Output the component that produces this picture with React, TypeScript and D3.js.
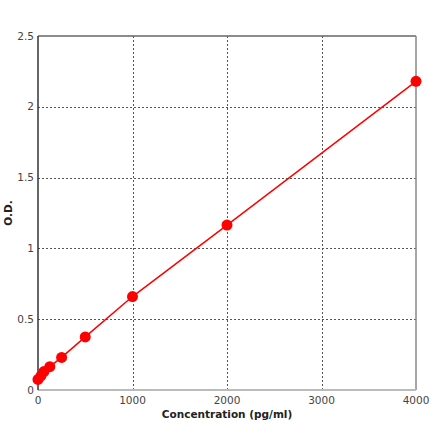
import * as React from "react";
import * as d3 from "d3";

const concentrations = [0, 31.25, 62.5, 125, 250, 500, 1000, 2000, 4000];
const odValues = [0.075, 0.1, 0.13, 0.165, 0.23, 0.375, 0.66, 1.165, 2.18];
const xTicks = [0, 1000, 2000, 3000, 4000];
const yTicks = [0, 0.5, 1, 1.5, 2, 2.5];

const WIDTH = 440;
const HEIGHT = 441;
const margin = { top: 36, right: 24, bottom: 51, left: 38 };

export default function App() {
  const iw = WIDTH - margin.left - margin.right;
  const ih = HEIGHT - margin.top - margin.bottom;

  const x = d3.scaleLinear().domain([0, 4000]).range([0, iw]);
  const y = d3.scaleLinear().domain([0, 2.5]).range([ih, 0]);

  const points = concentrations.map((c, i) => ({ c, od: odValues[i] }));
  const line = d3
    .line<{ c: number; od: number }>()
    .x((d) => x(d.c))
    .y((d) => y(d.od));

  const font = "Tahoma, 'DejaVu Sans', sans-serif";
  const labelColor = "#444";
  const gridColor = "#555";

  return (
    <svg
      width={WIDTH}
      height={HEIGHT}
      style={{ position: "absolute", left: 0, top: 0, background: "#fff" }}
      fontFamily={font}
    >
      <g transform={`translate(${margin.left},${margin.top})`}>
        {yTicks
          .filter((t) => t > 0 && t < 2.5)
          .map((t) => (
            <line
              key={`gy${t}`}
              x1={0}
              x2={iw}
              y1={Math.round(y(t)) + 0.5}
              y2={Math.round(y(t)) + 0.5}
              stroke={gridColor}
              strokeDasharray="2 2"
            />
          ))}
        {xTicks
          .filter((t) => t > 0 && t < 4000)
          .map((t) => (
            <line
              key={`gx${t}`}
              x1={Math.round(x(t)) + 0.5}
              x2={Math.round(x(t)) + 0.5}
              y1={0}
              y2={ih}
              stroke={gridColor}
              strokeDasharray="2 2"
            />
          ))}

        <line x1={0} x2={iw} y1={0} y2={0} stroke="#666" strokeWidth={1.5} />
        <line x1={iw} x2={iw} y1={0} y2={ih} stroke="#888" strokeWidth={1.5} />
        <line x1={0} x2={iw} y1={ih} y2={ih} stroke="#bbb" strokeWidth={2} />
        <line x1={0} x2={0} y1={0} y2={ih} stroke="#333" strokeWidth={1.5} />

        {yTicks.map((t) => (
          <text
            key={`ty${t}`}
            x={-4}
            y={y(t)}
            dy="0.35em"
            textAnchor="end"
            fontSize={10.5}
            fill={labelColor}
          >
            {t}
          </text>
        ))}
        {xTicks.map((t) => (
          <text
            key={`tx${t}`}
            x={x(t)}
            y={ih + 14}
            textAnchor="middle"
            fontSize={10.5}
            fill={labelColor}
          >
            {t}
          </text>
        ))}

        <path d={line(points) ?? undefined} fill="none" stroke="#ff0000" strokeWidth={1.5} />
        {points.map((d, i) => (
          <circle key={i} cx={x(d.c)} cy={y(d.od)} r={5.5} fill="#ff0000" />
        ))}

        <text
          x={iw / 2}
          y={ih + 28}
          textAnchor="middle"
          fontSize={10.5}
          fontWeight="bold"
          fill="#222"
        >
          Concentration (pg/ml)
        </text>
        <text
          transform={`translate(-26,${ih / 2}) rotate(-90)`}
          textAnchor="middle"
          fontSize={10.5}
          fontWeight="bold"
          fill="#222"
        >
          O.D.
        </text>
      </g>
    </svg>
  );
}
